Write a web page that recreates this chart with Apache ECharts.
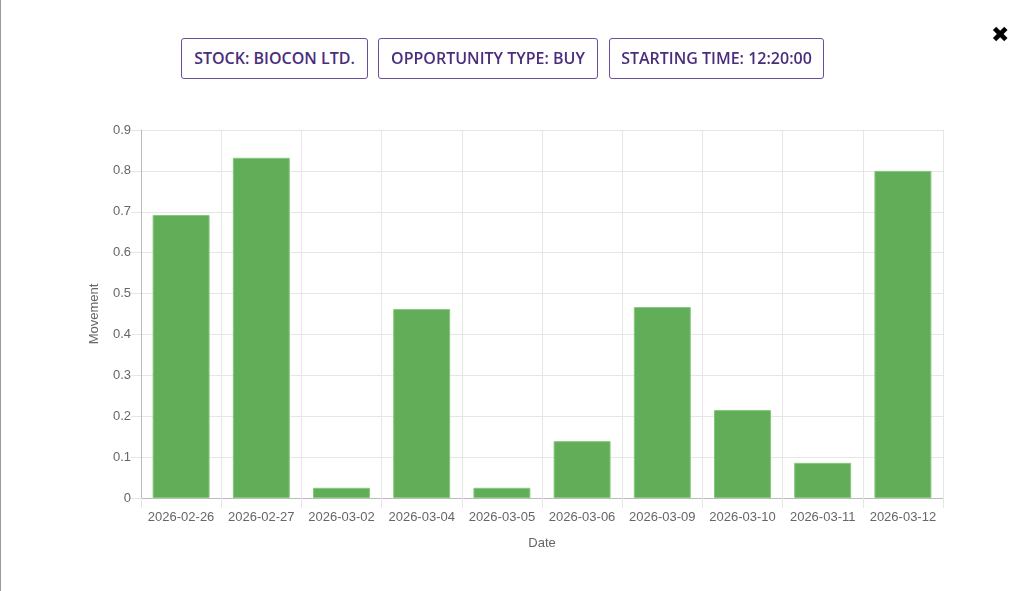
<!DOCTYPE html>
<html lang="en">
<head>
    <meta charset="UTF-8">
    <title>Movement</title>
    <script type="text/javascript" src="https://cdn.jsdelivr.net/npm/echarts@6.0.0/dist/echarts.min.js"></script>
    <style>
        html, body { margin: 0; padding: 0; background: #fff; }
        #wrap { position: relative; width: 1024px; height: 591px; overflow: hidden; border-left: 1px solid #9a9a9a; box-sizing: border-box; }
        #main { position: absolute; left: -1px; top: 0; width: 1024px; height: 591px; }
        .info { position: absolute; top: 38px; height: 41px; box-sizing: border-box; border: 1px solid #6a4e9c; border-radius: 3px;
                color: #4a2d7c; font-family: "Open Sans", sans-serif; font-weight: 600; font-size: 16px;
                line-height: 39px; text-align: center; background: #fff; }
        #close { position: absolute; left: 990px; top: 22px; font-family: "DejaVu Sans", sans-serif; font-size: 22px; color: #000; }
    </style>
</head>
<body>
<div id="wrap">
    <div id="main"></div>
    <div class="info" style="left:180px;width:187px;">STOCK: BIOCON LTD.</div>
    <div class="info" style="left:377px;width:220px;">OPPORTUNITY TYPE: BUY</div>
    <div class="info" style="left:608px;width:215px;">STARTING TIME: 12:20:00</div>
    <div id="close">&#x2716;</div>
</div>

<script type="text/javascript">
    var dates = ['2026-02-26', '2026-02-27', '2026-03-02', '2026-03-04', '2026-03-05',
                 '2026-03-06', '2026-03-09', '2026-03-10', '2026-03-11', '2026-03-12'];
    var movement = [0.692, 0.832, 0.025, 0.462, 0.025, 0.139, 0.467, 0.215, 0.086, 0.80];

    var myChart = echarts.init(document.getElementById('main'));

    var option = {
        animation: false,
        grid: { left: 141, right: 81, top: 130, bottom: 93 },
        xAxis: {
            type: 'category',
            data: dates,
            boundaryGap: true,
            name: 'Date',
            nameLocation: 'middle',
            nameGap: 39,
            nameTextStyle: { color: '#666', fontSize: 13, fontFamily: 'Liberation Sans' },
            axisLine: { lineStyle: { color: '#bbb' } },
            axisTick: { show: true, length: 10, lineStyle: { color: '#e6e6e6' } },
            axisLabel: { color: '#666', fontSize: 13, fontFamily: 'Liberation Sans', margin: 13, interval: 0 },
            splitLine: { show: true, lineStyle: { color: '#e6e6e6' } }
        },
        yAxis: {
            type: 'value',
            min: 0,
            max: 0.9,
            interval: 0.1,
            name: 'Movement',
            nameLocation: 'middle',
            nameGap: 40,
            nameTextStyle: { color: '#666', fontSize: 13, fontFamily: 'Liberation Sans' },
            axisLine: { show: true, lineStyle: { color: '#bbb' } },
            axisTick: { show: true, length: 10, lineStyle: { color: '#e6e6e6' } },
            axisLabel: { color: '#666', fontSize: 13, fontFamily: 'Liberation Sans', margin: 10 },
            splitLine: { show: true, lineStyle: { color: '#e6e6e6' } }
        },
        series: [
            {
                name: 'Movement',
                type: 'bar',
                data: movement,
                barCategoryGap: '29%',
                itemStyle: {
                    color: '#62ad57',
                    borderColor: '#86c77c',
                    borderWidth: 1
                }
            }
        ]
    };
    myChart.setOption(option);
</script>
</body>
</html>
